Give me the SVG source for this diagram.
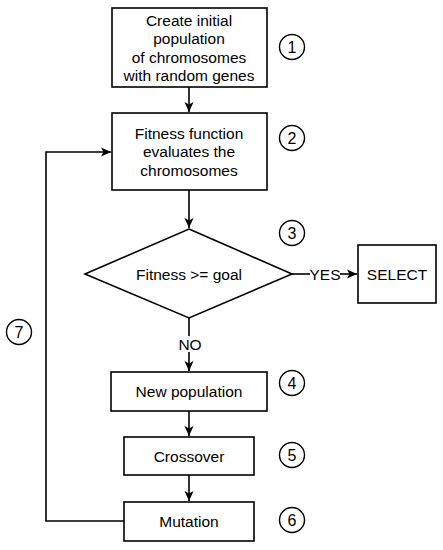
<svg xmlns="http://www.w3.org/2000/svg" width="443" height="550" viewBox="0 0 443 550">
<defs>
<marker id="ah" markerWidth="12" markerHeight="12" refX="10" refY="6" orient="auto" markerUnits="userSpaceOnUse">
<path d="M0,1.5 L10,6 L0,10.5 L2.5,6 Z" fill="#000"/>
</marker>
<style>
.box{fill:#fff;stroke:#000;stroke-width:1.6}
.t{font-family:"Liberation Sans",Arial,sans-serif;font-size:15.5px;fill:#000;text-anchor:middle;dominant-baseline:central}
.n{font-family:"Liberation Sans",Arial,sans-serif;font-size:16px;fill:#000;text-anchor:middle;dominant-baseline:central}
.c{fill:#fff;stroke:#000;stroke-width:1.4}
.ln{fill:none;stroke:#000;stroke-width:1.6}
</style>
</defs>
<rect width="443" height="550" fill="#fff"/>
<g id="connectors">
<line class="ln" x1="189" y1="87" x2="189" y2="112" marker-end="url(#ah)"/>
<line class="ln" x1="189" y1="190" x2="189" y2="228" marker-end="url(#ah)"/>
<line class="ln" x1="292" y1="274" x2="310" y2="274"/>
<text class="t" x="325" y="274">YES</text>
<line class="ln" x1="340" y1="274" x2="357" y2="274" marker-end="url(#ah)"/>
<line class="ln" x1="189" y1="318" x2="189" y2="336"/>
<text class="t" x="190" y="344">NO</text>
<line class="ln" x1="189" y1="352" x2="189" y2="371" marker-end="url(#ah)"/>
<line class="ln" x1="189" y1="411" x2="189" y2="436" marker-end="url(#ah)"/>
<line class="ln" x1="189" y1="475" x2="189" y2="501" marker-end="url(#ah)"/>
<polyline class="ln" points="124,521 46,521 46,152 111,152" marker-end="url(#ah)"/>
</g>
<g id="n1">
<rect class="box" x="112" y="8" width="155" height="79"/>
<text class="t" x="189" y="20">Create initial</text>
<text class="t" x="189" y="38.5">population</text>
<text class="t" x="189" y="57">of  chromosomes</text>
<text class="t" x="189" y="75.5">with random genes</text>
</g>
<g id="n2">
<rect class="box" x="112" y="113" width="155" height="77"/>
<text class="t" x="189" y="133">Fitness function</text>
<text class="t" x="189" y="151.5">evaluates the</text>
<text class="t" x="189" y="170">chromosomes</text>
</g>
<g id="n3">
<polygon class="box" points="189,229 292,274 189,318 85,274"/>
<text class="t" x="189" y="274">Fitness &gt;= goal</text>
</g>
<g id="select">
<rect class="box" x="358" y="245" width="78" height="58"/>
<text class="t" x="397" y="274">SELECT</text>
</g>
<g id="n4">
<rect class="box" x="111" y="372" width="156" height="39"/>
<text class="t" x="189" y="391">New population</text>
</g>
<g id="n5">
<rect class="box" x="124" y="437" width="130" height="38"/>
<text class="t" x="189" y="456">Crossover</text>
</g>
<g id="n6">
<rect class="box" x="124" y="502" width="130" height="39"/>
<text class="t" x="189" y="521">Mutation</text>
</g>
<g id="labels">
<circle class="c" cx="292" cy="47" r="12.5"/><text class="n" x="292" y="47">1</text>
<circle class="c" cx="292" cy="138" r="12.5"/><text class="n" x="292" y="138">2</text>
<circle class="c" cx="292" cy="233" r="12.5"/><text class="n" x="292" y="233">3</text>
<circle class="c" cx="292" cy="383" r="12.5"/><text class="n" x="292" y="383">4</text>
<circle class="c" cx="292" cy="455" r="12.5"/><text class="n" x="292" y="455">5</text>
<circle class="c" cx="292" cy="520" r="12.5"/><text class="n" x="292" y="520">6</text>
<circle class="c" cx="19" cy="332" r="12.5"/><text class="n" x="19" y="332">7</text>
</g>
</svg>
